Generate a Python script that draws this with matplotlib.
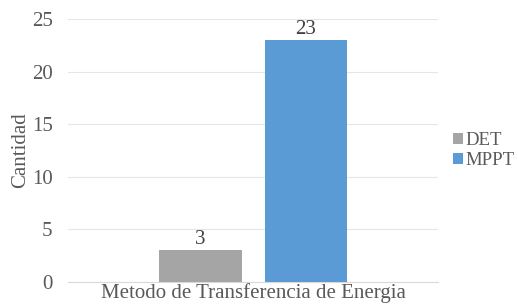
import matplotlib
matplotlib.use('Agg')
import matplotlib.pyplot as plt
import numpy as np

plt.rcParams['font.family'] = ['Liberation Serif', 'DejaVu Serif']

category = 'Metodo de Transferencia de Energia'
series = ['DET', 'MPPT']
values = [3, 23]
colors = ['#A5A5A5', '#5B9BD5']
yticks = [0, 5, 10, 15, 20, 25]

text_color = '#595959'
grid_color = '#E6E6E6'

fig = plt.figure(figsize=(5.18, 3.07), dpi=100)
ax = fig.add_axes([0.131, 0.0814, 0.715, 0.857])

width = 0.222
offsets = [-0.142, 0.142]
for name, val, col, off in zip(series, values, colors, offsets):
    b = ax.bar(off, val, width=width, color=col, label=name, zorder=3)
    ax.bar_label(b, labels=[str(val)], padding=1, fontsize=15, color='#404040')

ax.set_xlim(-0.5, 0.5)
ax.set_ylim(0, 25)
ax.set_yticks(yticks)
ax.set_xticks([0])
ax.set_xticklabels([category])
ax.tick_params(axis='both', length=0, labelsize=15, colors=text_color)
ax.tick_params(axis='y', pad=11)
ax.tick_params(axis='x', pad=1)
ax.yaxis.grid(True, color=grid_color, linewidth=0.8, zorder=0)
for s in ['top', 'right', 'left']:
    ax.spines[s].set_visible(False)
ax.spines['bottom'].set_color('#D9D9D9')
ax.set_ylabel('Cantidad', fontsize=15, color=text_color, labelpad=1)

leg = ax.legend(loc='center left', bbox_to_anchor=(1.0, 0.5), frameon=False,
                fontsize=13.5, handlelength=0.5, handleheight=0.5,
                handletextpad=0.15, labelspacing=0.15, borderaxespad=0.6,
                borderpad=0.2)
for t in leg.get_texts():
    t.set_color(text_color)

fig.savefig('out.png', dpi=100)
